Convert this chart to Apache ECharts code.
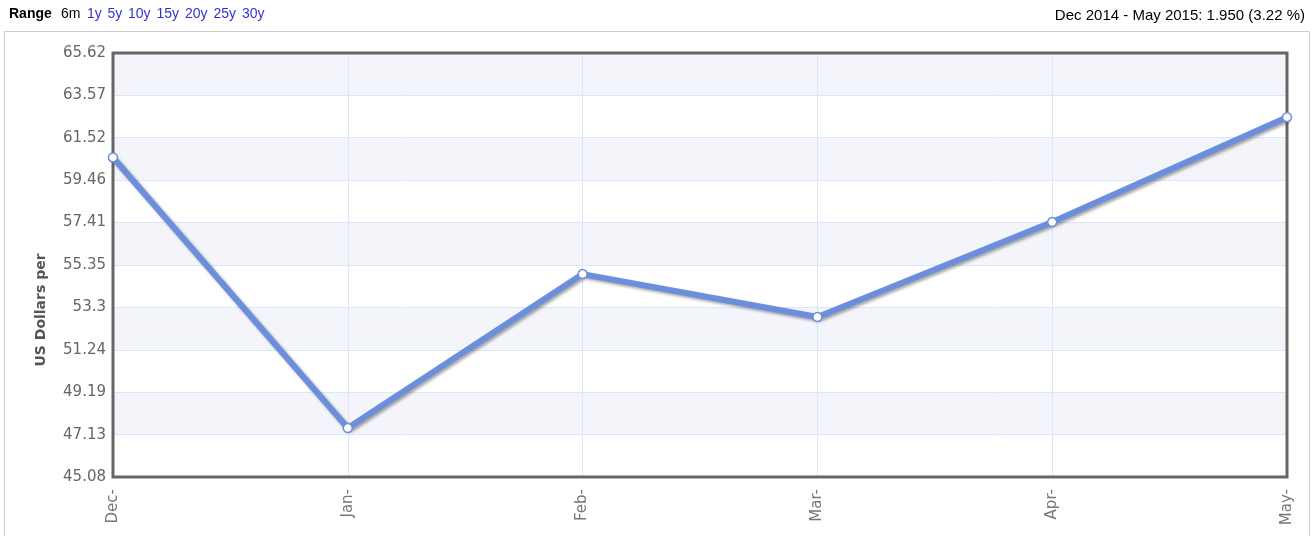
<!DOCTYPE html>
<html><head><meta charset="utf-8">
<script src="https://cdn.jsdelivr.net/npm/echarts@6/dist/echarts.min.js"></script>
<style>html,body{margin:0;padding:0;background:#fff}#c{width:1314px;height:536px}</style>
</head><body><div id="c"></div>
<script>
const categories = ['Dec', 'Jan', 'Feb', 'Mar', 'Apr', 'May'];
const values = [60.56, 47.45, 54.91, 52.83, 57.43, 62.51];
const yTicks = [45.08, 47.13, 49.19, 51.24, 53.3, 55.35, 57.41, 59.46, 61.52, 63.57, 65.62];
const rangeLinks = ['1y', '5y', '10y', '15y', '20y', '25y', '30y'];
const summaryText = 'Dec 2014 - May 2015: 1.950 (3.22 %)';
const yTitle = 'US Dollars per';

const chart = echarts.init(document.getElementById('c'), null, {renderer: 'canvas'});
const gridL = 113, gridT = 53, gridR = 1314 - 1287, gridB = 536 - 477;

const linkTexts = [];
let lx = 87;
rangeLinks.forEach(t => {
  linkTexts.push({type: 'text', left: lx, top: 7, style: {text: t, fill: '#3333cc', font: '14px "Liberation Sans", Arial, sans-serif'}});
  lx += t.length * 8 + 4.5;
});

chart.setOption({
  animation: false,
  grid: {left: gridL, top: gridT, right: gridR, bottom: gridB, show: false},
  graphic: [
    {type: 'rect', shape: {x: 4.5, y: 31.5, width: 1305, height: 520}, style: {fill: 'none', stroke: '#ccc', lineWidth: 1}, z: -10},
    {type: 'rect', shape: {x: gridL, y: gridT, width: 1287 - gridL, height: 477 - gridT}, style: {fill: 'none', stroke: '#666', lineWidth: 3}, z: 3},
    {type: 'text', left: 9, top: 7, style: {text: 'Range', fill: '#000', font: 'bold 14px "Liberation Sans", Arial, sans-serif'}},
    {type: 'text', left: 61, top: 7, style: {text: '6m', fill: '#000', font: '14px "Liberation Sans", Arial, sans-serif'}},
    ...linkTexts,
    {type: 'text', right: 9, top: 8, style: {text: summaryText, fill: '#000', font: '15px "Liberation Sans", Arial, sans-serif'}},
    {type: 'text', x: 41, y: 310, rotation: Math.PI / 2, style: {text: yTitle, fill: '#555', font: 'bold 14px "DejaVu Sans", Verdana, sans-serif', align: 'center', verticalAlign: 'middle'}}
  ],
  xAxis: {
    type: 'category', data: categories, boundaryGap: false,
    axisLine: {show: false}, axisTick: {show: false},
    splitLine: {show: true, lineStyle: {color: '#dbe6fa', width: 1}},
    axisLabel: {rotate: 90, formatter: v => v + '-', color: '#777', fontSize: 15, fontFamily: '"DejaVu Sans", Verdana, sans-serif', margin: 12}
  },
  yAxis: {
    type: 'value', min: yTicks[0], max: yTicks[yTicks.length - 1],
    axisLine: {show: false},
    axisTick: {show: false, customValues: yTicks},
    axisLabel: {customValues: yTicks, color: '#666', fontSize: 15, fontFamily: '"DejaVu Sans", Verdana, sans-serif', margin: 7, formatter: v => String(v)},
    splitLine: {show: true, lineStyle: {color: '#dbe6fa', width: 1}},
    splitArea: {show: true, areaStyle: {color: ['#ffffff', '#f4f5fb']}}
  },
  series: [{
    type: 'line', data: values,
    symbol: 'circle', symbolSize: 9, showAllSymbol: true,
    lineStyle: {color: '#6b8fdc', width: 6, shadowColor: 'rgba(0,0,0,0.35)', shadowBlur: 3, shadowOffsetX: 2, shadowOffsetY: 2},
    itemStyle: {color: '#ffffff', borderColor: '#6b8fdc', borderWidth: 1.5},
    z: 5
  }]
});
</script></body></html>
